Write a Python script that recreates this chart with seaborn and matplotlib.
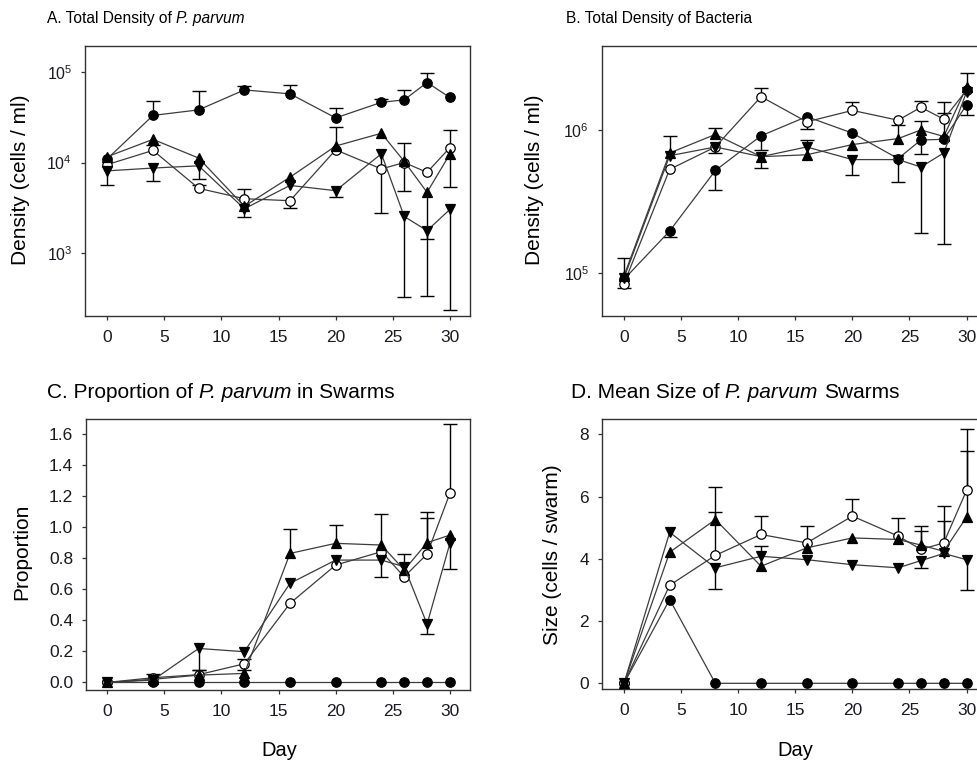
import matplotlib
matplotlib.use("Agg")
import matplotlib.pyplot as plt
from matplotlib import font_manager
from matplotlib.ticker import NullLocator, FixedLocator
import seaborn as sns

# ---------------- data ----------------
days = [0, 4, 8, 12, 16, 20, 24, 26, 28, 30]

# Panel A: total density of P. parvum (cells/ml)
a_fc = [1.1e4, 3.3e4, 3.8e4, 6.3e4, 5.7e4, 3.1e4, 4.6e4, 4.9e4, 7.6e4, 5.2e4]
a_fc_err = [None, 4.7e4, 6.1e4, 7.0e4, 7.1e4, 4.0e4, 5.0e4, 6.3e4, 9.6e4, None]
a_oc = [9.5e3, 1.36e4, 5.2e3, 4.0e3, 3.8e3, 1.38e4, 8.5e3, 1.0e4, 7.8e3, 1.46e4]
a_oc_err = [None, 1.55e4, 5.6e3, 5.1e3, 3.2e3, None, None, 4.9e3, None, 2.3e4]
a_tu = [1.16e4, 1.8e4, 1.12e4, 3.3e3, 6.9e3, 1.52e4, 2.1e4, 1.03e4, 4.7e3, 1.24e4]
a_tu_err = [None, None, None, None, None, 2.45e4, None, 1.63e4, 340, 5.4e3]
a_td = [8.1e3, 8.7e3, 9.2e3, 3.1e3, 5.6e3, 4.9e3, 1.25e4, 2.55e3, 1.78e3, 3.05e3]
a_td_err = [5.7e3, 6.2e3, 6.6e3, 2.5e3, None, 4.2e3, 2.8e3, 330, 1.45e3, 240]

# Panel B: total density of bacteria (cells/ml)
b_fc = [9.0e4, 1.96e5, 5.2e5, 9.1e5, 1.24e6, 9.5e5, 6.3e5, 8.5e5, 8.6e5, 1.5e6]
b_fc_err = [None, 1.79e5, 3.8e5, 7.2e5, None, None, None, 6.8e5, None, 1.27e6]
b_oc = [8.4e4, 5.3e5, 7.6e5, 1.71e6, 1.14e6, 1.37e6, 1.17e6, 1.44e6, 1.19e6, 1.9e6]
b_oc_err = [7.8e4, None, None, 1.98e6, 1.01e6, 1.58e6, None, 1.6e6, 1.58e6, None]
b_tu = [9.5e4, 6.9e5, 9.3e5, 6.5e5, 6.7e5, 7.9e5, 8.7e5, 1.0e6, 9.0e5, 2.0e6]
b_tu_err = [1.26e5, 9.0e5, 1.04e6, None, None, None, 1.08e6, 1.16e6, 1.32e6, 2.5e6]
b_td = [9.2e4, 6.6e5, 7.6e5, 6.5e5, 7.6e5, 6.2e5, 6.2e5, 5.5e5, 6.9e5, 1.85e6]
b_td_err = [None, None, 6.9e5, 5.4e5, 8.5e5, 4.8e5, 4.3e5, 1.9e5, 1.6e5, None]

# Panel C: proportion of P. parvum in swarms
c_fc = [0, 0, 0, 0, 0, 0, 0, 0, 0, 0]
c_fc_err = [None] * 10
c_oc = [0, 0.03, 0.05, 0.12, 0.51, 0.757, 0.843, 0.681, 0.828, 1.22]
c_oc_err = [None, 0.055, None, 0.15, None, None, None, None, 1.06, 1.666]
c_tu = [0, 0.02, 0.047, 0.058, 0.832, 0.897, 0.886, 0.725, 0.901, 0.95]
c_tu_err = [None, None, 0.08, 0.08, 0.987, 1.015, 1.084, 0.83, 1.097, None]
c_td = [0, 0.015, 0.219, 0.198, 0.639, 0.789, 0.789, 0.746, 0.376, 0.897]
c_td_err = [None, None, 0.08, None, None, None, 0.681, None, 0.31, 0.731]

# Panel D: mean size of P. parvum swarms (cells/swarm)
d_fc = [0, 2.69, 0, 0, 0, 0, 0, 0, 0, 0]
d_fc_err = [None] * 10
d_oc = [0, 3.15, 4.11, 4.78, 4.51, 5.37, 4.73, 4.30, 4.51, 6.20]
d_oc_err = [None, None, 5.51, 5.37, 5.05, 5.93, 5.30, 5.05, 5.69, 8.18]
d_tu = [0, 4.21, 5.26, 3.76, 4.35, 4.67, 4.62, 4.44, 4.24, 5.34]
d_tu_err = [None, None, 6.32, 4.40, None, None, None, 4.89, 5.21, 7.46]
d_td = [0, 4.85, 3.71, 4.08, 3.97, 3.81, 3.71, 3.94, 4.17, 3.97]
d_td_err = [None, None, 3.04, None, None, None, None, 3.71, None, 2.99]

xticks = [0, 5, 10, 15, 20, 25, 30]

# ---------------- style ----------------
sns.set_theme(style="ticks")
names = {f.name for f in font_manager.fontManager.ttflist}
BASE = "Liberation Sans" if "Liberation Sans" in names else "DejaVu Sans"
NARROW = "Liberation Sans Narrow" if "Liberation Sans Narrow" in names else None
plt.rcParams["font.family"] = [BASE, "DejaVu Sans"]
plt.rcParams["mathtext.fontset"] = "custom"
plt.rcParams["mathtext.rm"] = BASE
plt.rcParams["mathtext.it"] = BASE + ":italic"
plt.rcParams["mathtext.default"] = "regular"

TXT = "#1a1a22"
W, H = 978, 764
fig = plt.figure(figsize=(W / 100, H / 100), dpi=100)


def add_ax(l, t, r, b):
    return fig.add_axes([l / W, 1 - b / H, (r - l) / W, (b - t) / H])


PXD = 11.42  # pixels per day
axA = add_ax(85, 45.7, 470, 316)
axB = add_ax(602, 45.7, 990, 316)
axC = add_ax(86, 419.3, 470, 690)
axD = add_ax(602, 419.3, 990, 689)

styles = [
    dict(marker="o", ms=6.8, mfc="black"),
    dict(marker="o", ms=6.8, mfc="white"),
    dict(marker="^", ms=7.8, mfc="black"),
    dict(marker="v", ms=7.8, mfc="black"),
]


def draw(ax, series, log=False):
    if log:
        ax.set_yscale("log")
    for (vals, errs), st in zip(series, styles):
        ex = [d for d, e in zip(days, errs) if e is not None]
        ev = [v for v, e in zip(vals, errs) if e is not None]
        ee = [e for e in errs if e is not None]
        if ex:
            ax.vlines(ex, ev, ee, color="black", lw=1.0, zorder=2)
            ax.plot(ex, ee, ls="none", marker="_", ms=9.5, mew=1.0,
                    color="black", zorder=2)
    for (vals, errs), st in zip(series, styles):
        sns.lineplot(x=days, y=vals, ax=ax, color="#3c3c3c", lw=0.9,
                     marker=st["marker"], markersize=st["ms"],
                     markerfacecolor=st["mfc"], markeredgecolor="black",
                     markeredgewidth=0.9, zorder=3, errorbar=None)


draw(axA, [(a_fc, a_fc_err), (a_oc, a_oc_err), (a_tu, a_tu_err), (a_td, a_td_err)], log=True)
draw(axB, [(b_fc, b_fc_err), (b_oc, b_oc_err), (b_tu, b_tu_err), (b_td, b_td_err)], log=True)
draw(axC, [(c_fc, c_fc_err), (c_oc, c_oc_err), (c_tu, c_tu_err), (c_td, c_td_err)])
draw(axD, [(d_fc, d_fc_err), (d_oc, d_oc_err), (d_tu, d_tu_err), (d_td, d_td_err)])

# axis limits (matching pixel geometry)
axA.set_xlim((85 - 107.3) / PXD, (470 - 107.3) / PXD)
axB.set_xlim((602 - 624) / PXD, (990 - 624) / PXD)
axC.set_xlim((86 - 107.3) / PXD, (470 - 107.3) / PXD)
axD.set_xlim((602 - 624) / PXD, (990 - 624) / PXD)
axA.set_ylim(10 ** 2.311, 10 ** 5.286)
axB.set_ylim(10 ** 4.697, 10 ** 6.59)
axC.set_ylim(-0.049, 1.697)
axD.set_ylim(-0.183, 8.48)

axA.yaxis.set_major_locator(FixedLocator([1e3, 1e4, 1e5]))
axB.yaxis.set_major_locator(FixedLocator([1e5, 1e6]))
axC.set_yticks([0, 0.2, 0.4, 0.6, 0.8, 1.0, 1.2, 1.4, 1.6])
axC.set_yticklabels(["0.0", "0.2", "0.4", "0.6", "0.8", "1.0", "1.2", "1.4", "1.6"])
axD.set_yticks([0, 2, 4, 6, 8])

for ax in (axA, axB, axC, axD):
    ax.set_xticks(xticks)
    ax.yaxis.set_minor_locator(NullLocator())
    ax.xaxis.set_minor_locator(NullLocator())
    ax.set_xlabel("")
    ax.set_ylabel("")
    for s in ax.spines.values():
        s.set_visible(True)
        s.set_color("#333333")
        s.set_linewidth(1.0)
    ax.tick_params(axis="both", direction="out", length=3.2, width=0.9,
                   color="#333333", labelcolor=TXT)
    ax.tick_params(axis="x", labelsize=12.5, pad=7)
for ax in (axA, axB):
    ax.tick_params(axis="y", labelsize=11.5, pad=6)
for ax in (axC, axD):
    ax.tick_params(axis="y", labelsize=12.5, pad=6)


def fx(px):
    return px / W


def fy(py):
    return 1 - py / H


renderer = fig.canvas.get_renderer()


def rich_title(x_px, y_px, parts, size, family):
    x = x_px
    for i, (s, st) in enumerate(parts):
        t = fig.text(fx(x), fy(y_px), s, fontsize=size, fontstyle=st,
                     family=family, va="center", ha="left", color="black")
        bb = t.get_window_extent(renderer)
        x = bb.x1 + (0.278 * size * 100 / 72 if i < len(parts) - 1 else 0)


narrow_fam = [NARROW, BASE] if NARROW else [BASE]
ts_ab = 13.4 if NARROW else 11.2
rich_title(47, 18, [("A. Total Density of", "normal"), ("P. parvum", "italic")], ts_ab, narrow_fam)
rich_title(566, 18, [("B. Total Density of Bacteria", "normal")], ts_ab, narrow_fam)
rich_title(47, 392, [("C. Proportion of", "normal"), ("P. parvum", "italic"),
                     ("in Swarms", "normal")], 15, [BASE])
rich_title(571, 393, [("D. Mean Size of", "normal"), ("P. parvum", "italic"),
                      ("Swarms", "normal")], 15, [BASE])

ylab_kw = dict(rotation=90, va="center", ha="center", fontsize=15, color="black")
fig.text(fx(21), fy(180), "Density (cells / ml)", **ylab_kw)
fig.text(fx(535), fy(180), "Density (cells / ml)", **ylab_kw)
fig.text(fx(22), fy(552), "Proportion", **ylab_kw)
fig.text(fx(553), fy(555), "Size (cells / swarm)", **ylab_kw)
fig.text(fx(279), fy(750), "Day", ha="center", va="center", fontsize=14.5, color="black")
fig.text(fx(795), fy(750), "Day", ha="center", va="center", fontsize=14.5, color="black")

fig.savefig("out.png", dpi=100)
